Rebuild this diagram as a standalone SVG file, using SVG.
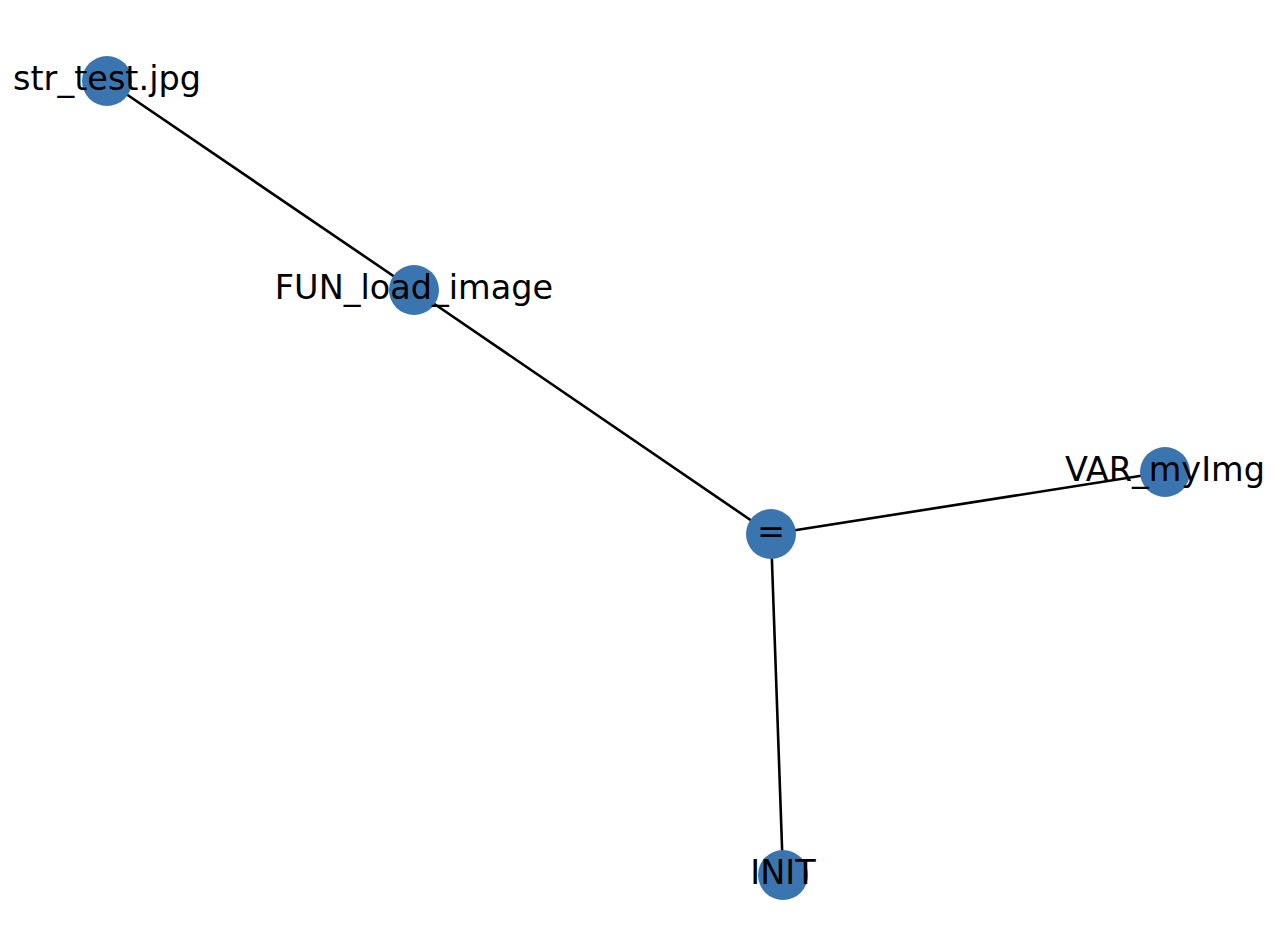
<svg xmlns="http://www.w3.org/2000/svg" width="1274" height="952" viewBox="0 0 1274 952">
<style>
.edge{stroke:#000;stroke-width:2.6;fill:none}
.node circle{fill:#3b75af}
.node text{font-family:"DejaVu Sans",sans-serif;font-size:33.5px;fill:#000;text-anchor:middle}
</style>
<rect width="1274" height="952" fill="#fff"/>
<g id="edges">
<line class="edge" x1="107" y1="81" x2="414" y2="290"/>
<line class="edge" x1="414" y1="290" x2="771" y2="534"/>
<line class="edge" x1="771" y1="534" x2="1165" y2="472"/>
<line class="edge" x1="771" y1="534" x2="783" y2="875"/>
</g>
<g id="node-str_test" class="node"><circle cx="107" cy="81" r="25"/><text x="107" y="90">str_test.jpg</text></g>
<g id="node-FUN_load_image" class="node"><circle cx="414" cy="290" r="25"/><text x="414" y="299">FUN_load_image</text></g>
<g id="node-eq" class="node"><circle cx="771" cy="534" r="25"/><text x="771" y="543">=</text></g>
<g id="node-VAR_myImg" class="node"><circle cx="1165" cy="472" r="25"/><text x="1165" y="481">VAR_myImg</text></g>
<g id="node-INIT" class="node"><circle cx="783" cy="875" r="25"/><text x="783" y="884">INIT</text></g>
</svg>
